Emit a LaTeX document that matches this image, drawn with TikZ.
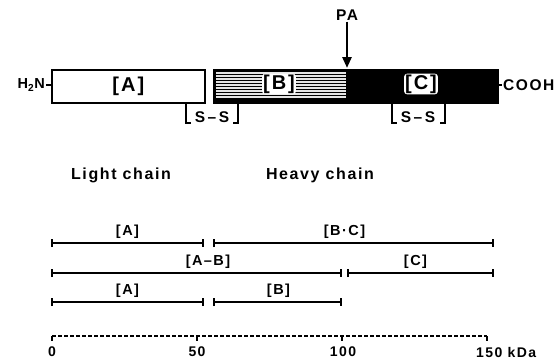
\documentclass[tikz,border=0pt]{standalone}
\usepackage{fontspec}
\setmainfont{Liberation Sans}[LetterSpace=10]
\usetikzlibrary{arrows.meta}
\begin{document}
\begin{tikzpicture}[x=1pt,y=-1pt,
  big/.style={font=\bfseries\fontsize{20}{20}\selectfont, inner sep=1pt},
  sm/.style={font=\bfseries\fontsize{14.5}{15}\selectfont, inner sep=1pt},
  num/.style={font=\bfseries\fontsize{14}{15}\selectfont, inner sep=1pt},
  term/.style={font=\bfseries\fontsize{15.5}{16}\selectfont, inner sep=1pt},
  chaintxt/.style={font=\bfseries\fontsize{16}{16}\selectfont, inner sep=1pt},
  boxline/.style={line width=1.6pt},
  brk/.style={line width=1.3pt},
  seg/.style={line width=1.3pt, {Bar[width=8pt,line width=1.8pt]}-{Bar[width=8pt,line width=1.8pt]}},
  ticky/.style={line width=1.1pt},
]
\useasboundingbox (0,0) rectangle (557,362);

% ---------- protein bar ----------
\node[draw, boxline, fill=white, anchor=north west, minimum width=153pt, minimum height=33pt, inner sep=0pt] (A) at (51,69) {};
\node[draw, boxline, fill=black, anchor=north west, minimum width=134pt, minimum height=33pt, inner sep=0pt] (B) at (213,69) {};
\node[draw, boxline, fill=black, anchor=north west, minimum width=150pt, minimum height=33pt, inner sep=0pt] (C) at (347,69) {};
% hatching of B
\foreach \yy in {73,76,...,99} {
  \draw[white!80!gray, line width=1.3pt] (216,\yy) -- (346,\yy);
}
\node[big] (la) at (A.center) {[A]};
\node[big, fill=white, rounded corners=3pt] (lb) at (279,84) {[B]};
\node[big, fill=white, rounded corners=3pt] (lc) at (421,84) {[C]};

% termini
\node[sm, anchor=east] (h2n) at (46,85) {H\textsubscript{2}N};
\draw[brk] (h2n.east) -- (h2n.east -| A.west);
\node[term, anchor=west] (cooh) at (502,85) {COOH};
\draw[brk] (cooh.west -| C.east) -- (cooh.west);

% PA arrow
\node[term] (pa) at (347,15) {PA};
\coordinate (cut) at (347,68);
\draw[line width=2.6pt, -{Triangle[width=9pt,length=11pt]}] (pa.south) -- (cut);

% disulfide bridges
\node[term] (ss1) at (212,117) {S\,--\,S};
\coordinate (s1l) at (186,102); \coordinate (s1r) at (238,102);
\draw[brk] (s1l) -- ++(0,21) -- ++(5,0);
\draw[brk] (s1r) -- ++(0,21) -- ++(-5,0);
\node[term] (ss2) at (418,117) {S\,--\,S};
\coordinate (s2l) at (392,102); \coordinate (s2r) at (445,102);
\draw[brk] (s2l) -- ++(0,21) -- ++(5,0);
\draw[brk] (s2r) -- ++(0,21) -- ++(-5,0);

% chain names
\node[chaintxt] (light) at (121,175) {Light chain};
\node[chaintxt] (heavy) at (320,175) {Heavy chain};

% ---------- fragments ----------
\coordinate (r1a) at (51,243);  \coordinate (r1b) at (204,243);
\coordinate (r1c) at (213,243); \coordinate (r1d) at (494,243);
\draw[seg] (r1a) -- node[sm, above=3pt] (f1) {[A]} (r1b);
\draw[seg] (r1c) -- node[sm, above=3pt, xshift=-9pt] (f2) {[B\textperiodcentered C]} (r1d);

\coordinate (r2a) at (51,273);  \coordinate (r2b) at (342,273);
\coordinate (r2c) at (347,273); \coordinate (r2d) at (494,273);
\draw[seg] (r2a) -- (r2b);
\node[sm] (f3) at (208,262) {[A--B]};
\draw[seg] (r2c) -- node[sm, above=3pt, xshift=-5pt] (f4) {[C]} (r2d);

\coordinate (r3a) at (51,302);  \coordinate (r3b) at (204,302);
\coordinate (r3c) at (213,302); \coordinate (r3d) at (342,302);
\draw[seg] (r3a) -- node[sm, above=3pt] (f5) {[A]} (r3b);
\draw[seg] (r3c) -- node[sm, above=3pt, xshift=1pt] (f6) {[B]} (r3d);

% ---------- scale ----------
\coordinate (t0) at (52,336);  \coordinate (t50) at (197,336);
\coordinate (t100) at (342,336); \coordinate (t150) at (487,336);
\draw[ticky, dash pattern=on 4pt off 2pt] (t0) -- (t150);
\foreach \t in {t0,t50,t100,t150} { \draw[ticky] (\t) -- ++(0,5); }
\node[num] (n0) at (52,352) {0};
\node[num] (n50) at (197,352) {50};
\node[num] (n100) at (343,352) {100};
\node[num, anchor=west] (n150) at (475,352) {150 kDa};
\end{tikzpicture}
\end{document}
